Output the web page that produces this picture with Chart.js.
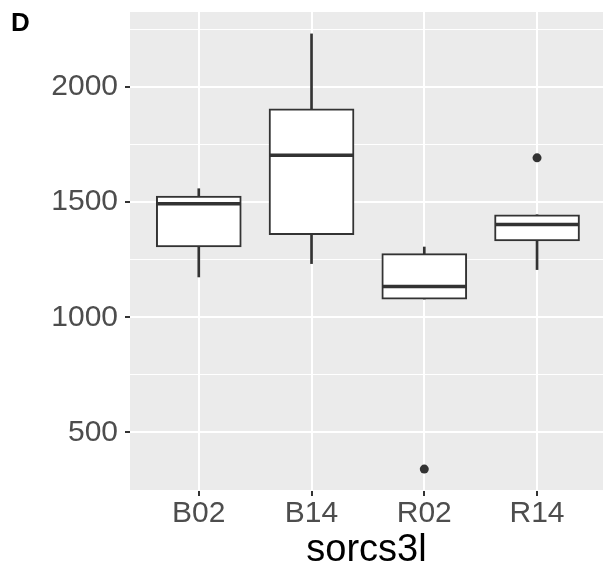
<!DOCTYPE html>
<html>
<head>
<meta charset="utf-8">
<script src="https://cdn.jsdelivr.net/npm/chart.js@4.4.1/dist/chart.umd.min.js"></script>
<style>
  html, body { margin: 0; padding: 0; background: #fff; }
  #wrap { position: relative; width: 603px; height: 573px; }
  #tag { position: absolute; left: 11px; top: 9px; font: bold 26px "Liberation Sans", Arial, sans-serif; line-height: 1; color: #000; }
</style>
</head>
<body>
<div id="wrap">
  <canvas id="box"></canvas>
  <div id="tag">D</div>
</div>
<script>
// boxplot stats per group
const categories = ["B02", "B14", "R02", "R14"];
const whiskerLow = [1175, 1233, 1079, 1207];
const lowerQuartile = [1305, 1359, 1079, 1331];
const medians = [1493, 1703, 1134, 1403];
const upperQuartile = [1526, 1905, 1276, 1445];
const whiskerHigh = [1558, 2230, 1305, 1445];
const outlierGroup = [2, 3];
const outlierValue = [341, 1692];
const yLabels = [500, 1000, 1500, 2000];

const ink = "#333333";
Chart.defaults.font.family = "'Liberation Sans', Arial, sans-serif";

const panelBg = {
  id: "panelBg",
  beforeDraw(chart) {
    const a = chart.chartArea;
    const ctx = chart.ctx;
    ctx.save();
    ctx.fillStyle = "#EBEBEB";
    ctx.fillRect(a.left, a.top, a.right - a.left, a.bottom - a.top);
    ctx.restore();
  },
};

new Chart(document.getElementById("box"), {
  type: "bar",
  data: {
    datasets: [
      {
        label: "whiskers",
        data: categories.map((c, i) => ({ x: i, y: [whiskerLow[i], whiskerHigh[i]] })),
        backgroundColor: ink,
        barThickness: 2,
        grouped: false,
        order: 3,
      },
      {
        label: "boxes",
        data: categories.map((c, i) => ({ x: i, y: [lowerQuartile[i], upperQuartile[i]] })),
        backgroundColor: "#ffffff",
        borderColor: ink,
        borderWidth: 2,
        borderSkipped: false,
        barThickness: 85,
        grouped: false,
        order: 2,
      },
      {
        type: "scatter",
        label: "median",
        data: categories.map((c, i) => ({ x: i, y: medians[i] })),
        pointStyle: "line",
        radius: 42,
        hoverRadius: 42,
        borderWidth: 3.5,
        borderColor: ink,
        order: 1,
      },
      {
        type: "scatter",
        label: "outliers",
        data: outlierGroup.map((g, i) => ({ x: g, y: outlierValue[i] })),
        radius: 4.5,
        backgroundColor: ink,
        borderWidth: 0,
        order: 0,
      },
    ],
  },
  options: {
    responsive: true,
    maintainAspectRatio: false,
    animation: false,
    events: [],
    layout: { autoPadding: false, padding: { top: 12, left: 0, right: 0, bottom: 0 } },
    plugins: {
      legend: { display: false },
      tooltip: { enabled: false },
    },
    scales: {
      x: {
        type: "linear",
        min: -0.61,
        max: 3.585,
        offset: false,
        border: { display: false },
        grid: {
          offset: false,
          color: "#ffffff",
          lineWidth: 2,
          tickColor: ink,
          tickWidth: 2,
          tickLength: 5,
        },
        ticks: {
          stepSize: 1,
          includeBounds: false,
          autoSkip: false,
          maxRotation: 0,
          padding: 0,
          color: "#4D4D4D",
          font: { size: 30 },
          callback: (v) => categories[v] ?? "",
        },
        title: {
          display: true,
          text: "sorcs3l",
          color: "#000000",
          font: { size: 38 },
          padding: { top: 0, bottom: 0 },
        },
        afterFit(s) {
          s.height = 82;
          s.paddingLeft = 0;
          s.paddingRight = 0;
        },
      },
      y: {
        min: 246,
        max: 2325,
        border: { display: false },
        grid: {
          color: "#ffffff",
          lineWidth: (c) => (yLabels.includes(c.tick.value) ? 2 : 1),
          tickColor: (c) => (yLabels.includes(c.tick.value) ? ink : "rgba(0,0,0,0)"),
          tickWidth: 2,
          tickLength: 5,
        },
        ticks: {
          stepSize: 250,
          includeBounds: false,
          autoSkip: false,
          padding: 7,
          color: "#4D4D4D",
          font: { size: 30 },
          callback: (v) => (yLabels.includes(v) ? String(v) : ""),
        },
        afterFit(s) {
          s.width = 130;
          s.paddingTop = 0;
          s.paddingBottom = 0;
        },
      },
    },
  },
  plugins: [panelBg],
});
</script>
</body>
</html>
